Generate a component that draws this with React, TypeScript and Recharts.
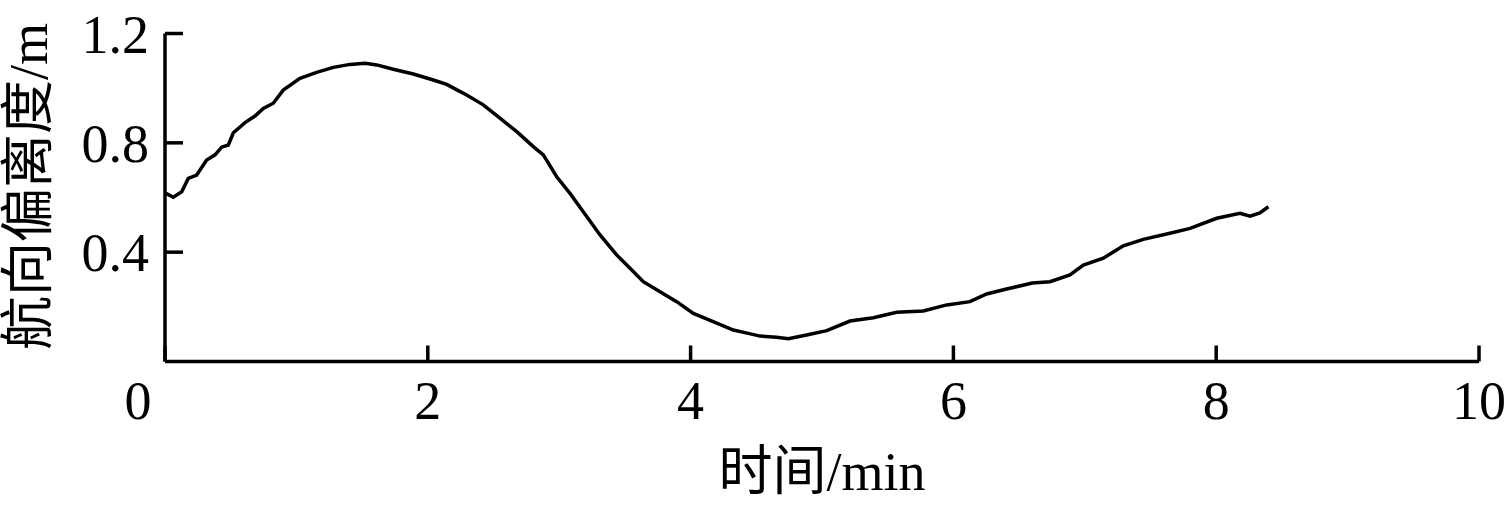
import React from 'react';
import { LineChart, Line, XAxis, YAxis } from 'recharts';

const timeMin = [
  0.008, 0.063, 0.127, 0.177, 0.241, 0.317, 0.381, 0.431, 0.482, 0.52, 0.609, 0.685, 0.748, 0.824, 0.9,
  1.027, 1.154, 1.281, 1.408, 1.522, 1.611, 1.737, 1.89, 2.042, 2.144, 2.232, 2.296, 2.422, 2.549, 2.677,
  2.803, 2.879, 2.981, 3.082, 3.183, 3.311, 3.437, 3.539, 3.64, 3.767, 3.894, 4.021, 4.199, 4.325, 4.439,
  4.528, 4.655, 4.744, 4.883, 5.036, 5.213, 5.391, 5.568, 5.771, 5.949, 6.126, 6.253, 6.405, 6.6, 6.735,
  6.887, 6.989, 7.141, 7.293, 7.445, 7.648, 7.801, 8.004, 8.181, 8.257, 8.333, 8.397,
];
const deviation = [
  0.615, 0.601, 0.621, 0.67, 0.682, 0.737, 0.756, 0.784, 0.792, 0.837, 0.874, 0.898, 0.926, 0.945, 0.993,
  1.036, 1.058, 1.076, 1.087, 1.091, 1.085, 1.069, 1.052, 1.03, 1.014, 0.991, 0.975, 0.939, 0.89, 0.841,
  0.786, 0.756, 0.676, 0.615, 0.548, 0.463, 0.39, 0.341, 0.292, 0.255, 0.219, 0.176, 0.14, 0.115, 0.103,
  0.093, 0.089, 0.083, 0.097, 0.113, 0.148, 0.16, 0.18, 0.185, 0.207, 0.219, 0.247, 0.265, 0.287, 0.292,
  0.317, 0.353, 0.378, 0.423, 0.447, 0.469, 0.487, 0.524, 0.542, 0.532, 0.544, 0.566,
];
const xTicks = [0, 2, 4, 6, 8, 10];
const yTicks = [0.4, 0.8, 1.2];
const xLabel = '时间/min';
const yLabel = '航向偏离度/m';

const data = timeMin.map((t, i) => ({ t, v: deviation[i] }));

const FONT = "'Liberation Serif', 'Times New Roman', 'Noto Sans CJK SC', serif";
const FS = 54;

const XTick = (props: any) => {
  const { x, y, payload } = props;
  const shift = payload.value === 0 ? -27 : 0;
  return (
    <text x={x + shift} y={y} dy="0.71em" textAnchor="middle" fontFamily={FONT} fontSize={FS} fill="#000">
      {payload.value}
    </text>
  );
};

const YTick = (props: any) => {
  const { x, y, payload } = props;
  return (
    <text x={x} y={y} dy="0.355em" textAnchor="end" fontFamily={FONT} fontSize={FS} fill="#000">
      {payload.value}
    </text>
  );
};

const XLabel = (props: any) => {
  const vb = props.viewBox || {};
  return (
    <text
      x={vb.x + vb.width / 2}
      y={vb.y + vb.height - 16}
      textAnchor="middle"
      fontFamily={FONT}
      fontSize={FS}
      fill="#000"
    >
      {xLabel}
    </text>
  );
};

const YLabel = (props: any) => {
  const vb = props.viewBox || {};
  const cx = vb.x + 29;
  const cy = vb.y + vb.height / 2 - 11;
  return (
    <text
      x={cx}
      y={cy}
      transform={`rotate(-90, ${cx}, ${cy})`}
      textAnchor="middle"
      dominantBaseline="central"
      fontFamily={FONT}
      fontSize={FS}
      fill="#000"
    >
      {yLabel}
    </text>
  );
};

export default function App() {
  return (
    <div style={{ position: 'absolute', left: 0, top: 0, width: 1511, height: 506, background: '#fff' }}>
      <LineChart width={1511} height={506} data={data} margin={{ top: 33.5, right: 32, bottom: 0, left: 0 }}>
        <XAxis
          dataKey="t"
          type="number"
          domain={[0, 10]}
          ticks={xTicks}
          interval={0}
          height={144.5}
          axisLine={{ stroke: '#000', strokeWidth: 3.5 }}
          tickLine={{ stroke: '#000', strokeWidth: 3.5 }}
          tickSize={-16}
          tickMargin={35.5}
          tick={<XTick />}
          label={<XLabel />}
        />
        <YAxis
          type="number"
          domain={[0, 1.2]}
          ticks={yTicks}
          interval={0}
          width={165}
          axisLine={{ stroke: '#000', strokeWidth: 3.5 }}
          tickLine={{ stroke: '#000', strokeWidth: 3.5 }}
          tickSize={-18}
          tickMargin={34}
          tick={<YTick />}
          label={<YLabel />}
        />
        <Line
          dataKey="v"
          type="linear"
          stroke="#000"
          strokeWidth={3.5}
          dot={false}
          isAnimationActive={false}
        />
      </LineChart>
    </div>
  );
}
